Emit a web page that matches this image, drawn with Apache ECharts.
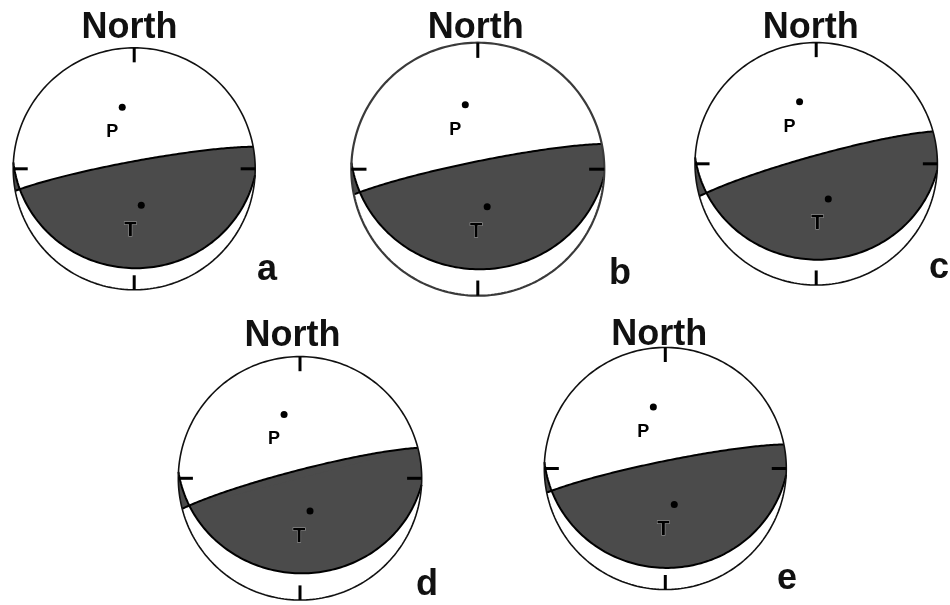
<!DOCTYPE html>
<html>
<head>
<meta charset="utf-8">
<script src="https://cdn.jsdelivr.net/npm/echarts@6/dist/echarts.min.js"></script>
<style>
  html, body { margin: 0; padding: 0; background: #fff; }
  #chart { width: 950px; height: 605px; }
</style>
</head>
<body>
<div id="chart"></div>
<script>
// Focal mechanism solutions, lower-hemisphere equal-area projection.
const panelLabels = ['a', 'b', 'c', 'd', 'e'];
const northLabel = 'North';

// Nodal plane 1 (steep) and nodal plane 2 (shallow), right-hand-rule strike/dip in degrees
const plane1Strike = [259.5, 258.5, 254.5, 255.5, 258.5];
const plane1Dip    = [85, 85, 84.5, 84.5, 85];
const plane2Strike = [93, 93, 93, 93, 93];
const plane2Dip    = [19, 22, 22, 23, 19];

// Pressure (P) and tension (T) axes: trend / plunge in degrees
const pTrend  = [349, 349, 345, 346, 349];
const pPlunge = [47, 47, 46, 45, 47];
const tTrend  = [169, 166, 161, 163, 166];
const tPlunge = [65, 65, 65, 67, 65];

// Placement of each stereonet on the page (pixels)
const layout = [
  { cx: 134.2, cy: 168.8, r: 121.0, north: [129.5, 28.5], tag: [267, 270.5] },
  { cx: 477.8, cy: 169.2, r: 126.5, north: [475.8, 28.5], tag: [620, 274.5] },
  { cx: 816.2, cy: 163.8, r: 121.2, north: [810.8, 28.5], tag: [939, 268.5] },
  { cx: 300.0, cy: 478.3, r: 121.7, north: [292.5, 335.8], tag: [427, 585.5] },
  { cx: 665.3, cy: 468.5, r: 121.0, north: [659.2, 335.0], tag: [787, 579.5] }
];

const DARK = '#4b4b4b';
const FONT = '"Liberation Sans", Arial, sans-serif';
const D = Math.PI / 180;

function vec(trend, plunge) {
  return [Math.sin(trend * D) * Math.cos(plunge * D),
          Math.cos(trend * D) * Math.cos(plunge * D),
          -Math.sin(plunge * D)];
}
function cross(a, b) {
  return [a[1] * b[2] - a[2] * b[1], a[2] * b[0] - a[0] * b[2], a[0] * b[1] - a[1] * b[0]];
}
function dot(a, b) { return a[0] * b[0] + a[1] * b[1] + a[2] * b[2]; }

// Schmidt (equal-area) projection of a lower-hemisphere direction
function project(v) {
  if (v[2] > 0) v = [-v[0], -v[1], -v[2]];
  const h = Math.hypot(v[0], v[1]);
  if (h < 1e-12) return [0, 0];
  const plunge = Math.atan2(-v[2], h);
  const r = Math.SQRT2 * Math.sin((Math.PI / 2 - plunge) / 2);
  return [r * v[0] / h, r * v[1] / h];
}
function basis(strike, dip) { return { s: vec(strike, 0), d: vec(strike + 90, dip) }; }
function planeVec(b, t) {
  const c = Math.cos(t * D), s = Math.sin(t * D);
  return [c * b.s[0] + s * b.d[0], c * b.s[1] + s * b.d[1], c * b.s[2] + s * b.d[2]];
}
function planeArc(b, t0, t1) {
  const n = Math.max(2, Math.ceil(Math.abs(t1 - t0) / 1.5));
  const out = [];
  for (let k = 0; k <= n; k++) out.push(project(planeVec(b, t0 + (t1 - t0) * k / n)));
  return out;
}
function rimArc(az0, az1) {
  while (az1 < az0) az1 += 360;
  const n = Math.max(2, Math.ceil((az1 - az0) / 1.5));
  const out = [];
  for (let k = 0; k <= n; k++) {
    const a = (az0 + (az1 - az0) * k / n) * D;
    out.push([Math.sin(a), Math.cos(a)]);
  }
  return out;
}
const norm360 = a => ((a % 360) + 360) % 360;

function ballRenderer(i) {
  return function (params, api) {
    const px = p => api.coord(p);
    const b1 = basis(plane1Strike[i], plane1Dip[i]);
    const b2 = basis(plane2Strike[i], plane2Dip[i]);
    let L = cross(cross(b1.s, b1.d), cross(b2.s, b2.d));
    if (L[2] > 0) L = L.map(c => -c);
    const t1x = Math.atan2(dot(L, b1.d), dot(L, b1.s)) / D;
    const t2x = Math.atan2(dot(L, b2.d), dot(L, b2.s)) / D;
    const s1 = norm360(plane1Strike[i]), s2 = norm360(plane2Strike[i]);

    // compressional quadrants
    const mainQuad = [].concat(
      planeArc(b1, t1x, 180),
      rimArc(norm360(s1 + 180), s2),
      planeArc(b2, 0, t2x)
    ).map(px);
    const smallQuad = [].concat(
      planeArc(b1, t1x, 0),
      rimArc(s1, norm360(s2 + 180)),
      planeArc(b2, 180, t2x)
    ).map(px);

    const rim = rimArc(0, 360).map(px);
    const rimStroke = i === 1 ? { stroke: '#3a3a3a', lineWidth: 2.2 } : { stroke: '#111', lineWidth: 1.6 };
    const tk = 0.88;
    const tickSegs = [[[0, 1], [0, tk]], [[0, -1], [0, -tk]], [[1, 0], [tk, 0]], [[-1, 0], [-tk, 0]]];

    const children = [
      { type: 'polygon', shape: { points: rim }, style: { fill: '#fff', stroke: null } },
      { type: 'polygon', shape: { points: mainQuad }, style: { fill: DARK, stroke: null } },
      { type: 'polygon', shape: { points: smallQuad }, style: { fill: DARK, stroke: null } },
      { type: 'polyline', shape: { points: planeArc(b1, 0, 180).map(px) }, style: { fill: null, stroke: '#000', lineWidth: 2 } },
      { type: 'polyline', shape: { points: planeArc(b2, 0, 180).map(px) }, style: { fill: null, stroke: '#000', lineWidth: 2 } },
      { type: 'polygon', shape: { points: rim }, style: Object.assign({ fill: null }, rimStroke) }
    ];
    tickSegs.forEach(seg => {
      const a = px(seg[0]), c = px(seg[1]);
      children.push({ type: 'line', shape: { x1: a[0], y1: a[1], x2: c[0], y2: c[1] }, style: { stroke: '#000', lineWidth: 3 } });
    });
    return { type: 'group', children: children };
  };
}

const grids = [], xAxes = [], yAxes = [], series = [], graphics = [];
layout.forEach((g, i) => {
  grids.push({ left: g.cx - g.r, top: g.cy - g.r, width: 2 * g.r, height: 2 * g.r, containLabel: false });
  xAxes.push({ type: 'value', gridIndex: i, min: -1, max: 1, show: false });
  yAxes.push({ type: 'value', gridIndex: i, min: -1, max: 1, show: false });
  series.push({
    type: 'custom', xAxisIndex: i, yAxisIndex: i, clip: false, silent: true,
    data: [[0, 0]], renderItem: ballRenderer(i), z: 2
  });
  series.push({
    type: 'scatter', xAxisIndex: i, yAxisIndex: i, silent: true, z: 5,
    symbolSize: 7, itemStyle: { color: '#000', opacity: 1 },
    data: [
      { name: 'P', value: project(vec(pTrend[i], pPlunge[i])),
        label: { offset: [-10, 25], fontSize: 18 } },
      { name: 'T', value: project(vec(tTrend[i], tPlunge[i])),
        label: { offset: [-11, 25], fontSize: 20, textBorderColor: '#a0a0a0', textBorderWidth: 1 } }
    ],
    label: { show: true, position: 'inside', formatter: '{b}', color: '#000', fontWeight: 900, fontFamily: FONT }
  });
  graphics.push({
    type: 'text', x: g.north[0], y: g.north[1], z: 1,
    style: { text: northLabel, font: 'bold 36px ' + FONT, fill: '#111', textAlign: 'center', textVerticalAlign: 'middle' }
  });
  graphics.push({
    type: 'text', x: g.tag[0], y: g.tag[1], z: 1,
    style: { text: panelLabels[i], font: 'bold 36px ' + FONT, fill: '#111', textAlign: 'center', textVerticalAlign: 'middle' }
  });
});

const chart = echarts.init(document.getElementById('chart'), null, { renderer: 'canvas' });
chart.setOption({
  animation: false,
  backgroundColor: '#fff',
  grid: grids,
  xAxis: xAxes,
  yAxis: yAxes,
  series: series,
  graphic: graphics
});
</script>
</body>
</html>
